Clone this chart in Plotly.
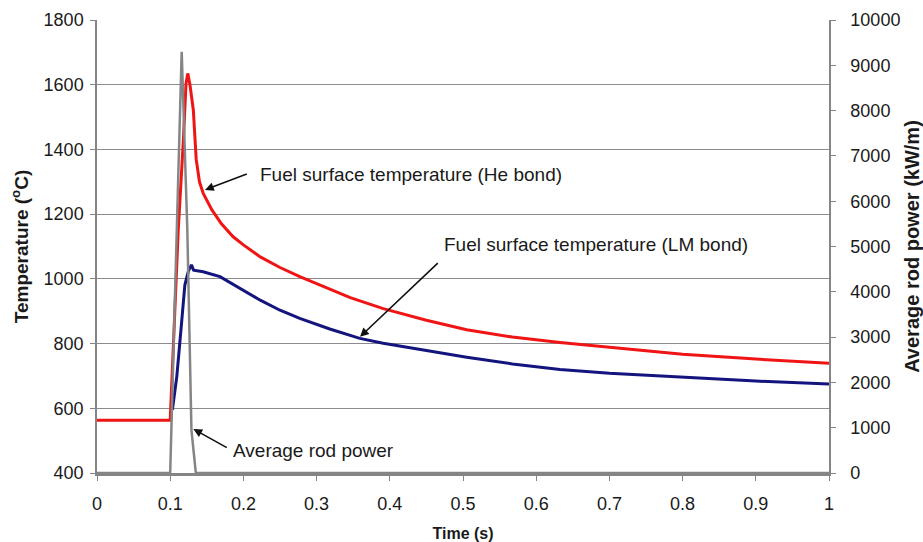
import plotly.graph_objects as go

# ---- data ----
he_time = [0, 0.1, 0.105, 0.111, 0.118, 0.1216, 0.124, 0.127, 0.1316, 0.1355, 0.14, 0.145,
           0.157, 0.17, 0.186, 0.2, 0.223, 0.25, 0.277, 0.31, 0.346, 0.391, 0.45, 0.505,
           0.5675, 0.6325, 0.7, 0.8, 0.9, 1.0]
he_temp = [563, 563, 830, 1151, 1429, 1604, 1635, 1600, 1522, 1370, 1300, 1265,
           1213, 1170, 1130, 1105, 1068, 1035, 1007, 975, 942, 908, 872, 843,
           820, 803, 788, 767, 752, 739]

lm_time = [0.103, 0.109, 0.115, 0.12, 0.125, 0.129, 0.132, 0.145, 0.168, 0.2045, 0.223, 0.25,
           0.277, 0.318, 0.359, 0.391, 0.43, 0.505, 0.5675, 0.6325, 0.7, 0.8, 0.9, 1.0]
lm_temp = [595, 698, 850, 981, 1025, 1043, 1027, 1022, 1007, 960, 934, 903,
           878, 845, 816, 801, 786, 758, 737, 720, 708, 695, 684, 675]

power_time = [0, 0.1, 0.105, 0.11, 0.1157, 0.1234, 0.128, 0.129, 0.135, 1.0]
power_kw = [0, 0, 3000, 6000, 9300, 5364, 2053, 950, 0, 0]

x_ticks = [0, 0.1, 0.2, 0.3, 0.4, 0.5, 0.6, 0.7, 0.8, 0.9, 1]
x_tick_labels = ["0", "0.1", "0.2", "0.3", "0.4", "0.5", "0.6", "0.7", "0.8", "0.9", "1"]

he_label = "Fuel surface temperature (He bond)"
lm_label = "Fuel surface temperature (LM bond)"
pw_label = "Average rod power"

FONT = "Liberation Sans, Arial, sans-serif"
GRID = "#8c8c8c"
TXT = "#1a1a1a"

fig = go.Figure()
fig.add_trace(go.Scatter(x=he_time, y=he_temp, mode="lines",
                         line=dict(color="#f01414", width=3), name="He bond"))
fig.add_trace(go.Scatter(x=lm_time, y=lm_temp, mode="lines",
                         line=dict(color="#14147e", width=3), name="LM bond"))
fig.add_trace(go.Scatter(x=power_time, y=power_kw, mode="lines", yaxis="y2",
                         line=dict(color="#858585", width=2.5), name="Power"))

anns = []
arrow_common = dict(text="", showarrow=True, arrowhead=2, arrowsize=1.1, arrowwidth=1.6,
                    arrowcolor="#111111", xref="x", yref="y", axref="x", ayref="y")
anns.append(dict(x=0.1475, y=1275, ax=0.2067, ay=1326, **arrow_common))
anns.append(dict(x=0.3593, y=821, ax=0.4676, ay=1053, **arrow_common))
anns.append(dict(x=0.1316, y=536, ax=0.1794, ay=476, **arrow_common))
lab = dict(showarrow=False, xref="x", yref="y", xanchor="left", yanchor="middle",
           font=dict(family=FONT, size=19, color=TXT))
anns.append(dict(x=0.2195, y=1321, text=he_label, **lab))
anns.append(dict(x=0.4715, y=1106, text=lm_label, **lab))
anns.append(dict(x=0.183, y=471, text=pw_label, **lab))

fig.update_layout(
    width=923, height=542,
    margin=dict(l=97, r=94, t=20, b=69),
    paper_bgcolor="white", plot_bgcolor="white",
    showlegend=False,
    font=dict(family=FONT, size=18, color=TXT),
    annotations=anns,
    xaxis=dict(range=[0, 1], tickvals=x_ticks, ticktext=x_tick_labels,
               showgrid=False, zeroline=False, automargin=False,
               showline=True, linecolor="#858585", linewidth=2.5,
               ticks="outside", ticklen=5, tickcolor="#858585", tickwidth=1,
               ticklabelstandoff=8,
               title=dict(text="<b>Time (s)</b>", font=dict(size=16), standoff=20)),
    yaxis=dict(range=[400, 1800], dtick=200,
               showgrid=True, gridcolor=GRID, gridwidth=1.2, zeroline=False, automargin=False,
               showline=True, linecolor="#858585", linewidth=1.5,
               ticks="outside", ticklen=5, tickcolor="#858585",
               ticklabelstandoff=3,
               title=dict(text="<b>Temperature (<sup>o</sup>C)</b>", font=dict(size=19), standoff=10)),
    yaxis2=dict(range=[0, 10000], dtick=1000, tickformat="d", overlaying="y", side="right",
                showgrid=False, zeroline=False, automargin=False,
                showline=True, linecolor="#858585", linewidth=1.5,
                ticks="outside", ticklen=5, tickcolor="#858585",
                ticklabelstandoff=11,
                title=dict(text="<b>Average rod power (kW/m)</b>", font=dict(size=20), standoff=8)),
)

fig.write_html("out.html")
